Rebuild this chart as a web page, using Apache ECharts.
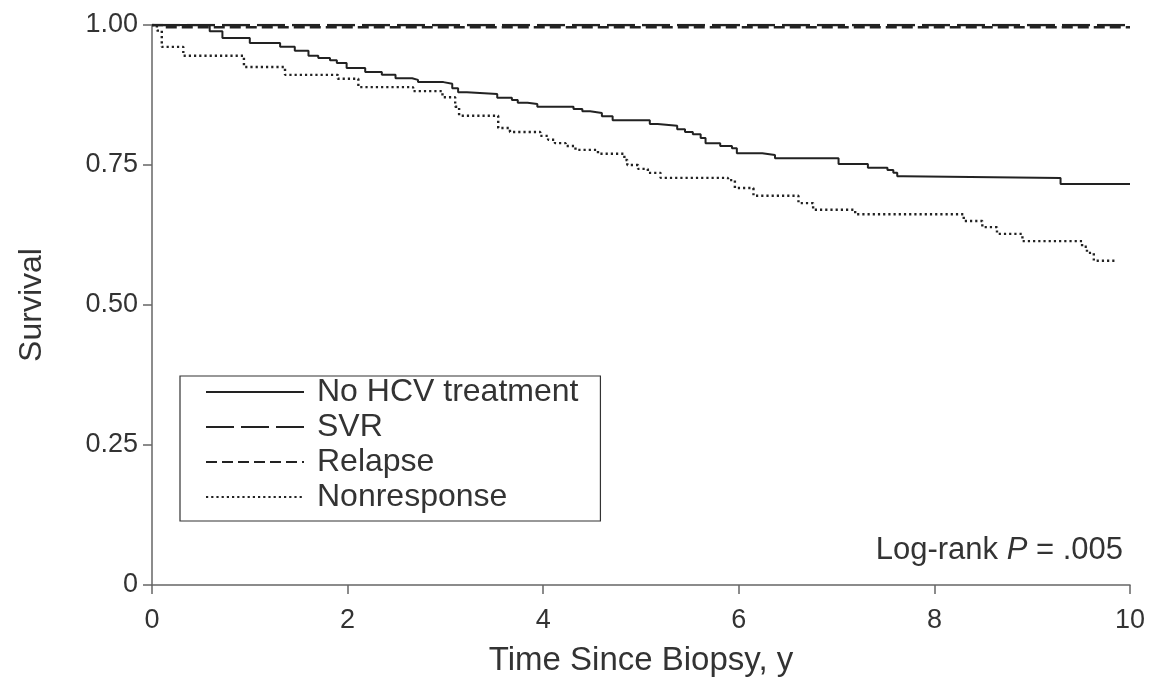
<!DOCTYPE html>
<html>
<head>
<meta charset="utf-8">
<script src="https://cdn.jsdelivr.net/npm/echarts@6/dist/echarts.min.js"></script>
<style>html,body{margin:0;padding:0;background:#fff}#c{width:1153px;height:685px}</style>
</head>
<body>
<div id="c"></div>
<script>
// Kaplan-Meier step points: [time (y), survival] — value after each step
const noTreatment = [
  [0,1.000],[0.59,0.989],[0.72,0.977],[1.00,0.968],[1.31,0.961],[1.46,0.954],[1.60,0.945],
  [1.70,0.941],[1.82,0.937],[1.89,0.932],[1.99,0.923],[2.18,0.916],[2.35,0.911],[2.49,0.905],
  [2.66,0.902],[2.72,0.898],[2.98,0.895],[3.07,0.887],[3.13,0.880],[3.22,0.877],[3.53,0.870],
  [3.68,0.866],[3.74,0.861],[3.84,0.859],[3.94,0.854],[4.31,0.850],[4.40,0.846],[4.48,0.843],
  [4.60,0.837],[4.71,0.830],[5.09,0.823],[5.17,0.820],[5.37,0.814],[5.45,0.809],[5.53,0.805],
  [5.61,0.798],[5.66,0.789],[5.81,0.784],[5.93,0.780],[5.98,0.771],[6.24,0.768],[6.37,0.762],
  [7.02,0.752],[7.32,0.745],[7.52,0.741],[7.58,0.736],[7.62,0.730],[7.68,0.727],[9.29,0.716],
  [10.0,0.716]
];
const svr = [[0,1.000],[10.0,1.000]];
const relapse = [[0,1.000],[0.12,0.996],[10.0,0.996]];
const nonresponse = [
  [0,1.000],[0.05,0.990],[0.10,0.961],[0.32,0.945],[0.94,0.925],[1.36,0.911],[1.90,0.904],
  [2.11,0.889],[2.67,0.882],[2.97,0.871],[3.10,0.854],[3.14,0.838],[3.54,0.816],[3.66,0.809],
  [3.97,0.802],[4.05,0.795],[4.12,0.789],[4.23,0.784],[4.33,0.777],[4.56,0.770],[4.83,0.759],
  [4.86,0.750],[4.97,0.743],[5.07,0.736],[5.20,0.727],[5.89,0.723],[5.96,0.709],[6.15,0.695],
  [6.61,0.682],[6.76,0.670],[7.19,0.662],[8.30,0.650],[8.49,0.639],[8.64,0.627],[8.90,0.614],
  [9.51,0.604],[9.56,0.593],[9.63,0.579],[9.85,0.579]
];
const seriesNames = ['No HCV treatment','SVR','Relapse','Nonresponse'];
const yTickLabels = {0:'0',0.25:'0.25',0.5:'0.50',0.75:'0.75',1:'1.00'};

const FONT = '"Liberation Sans", Arial, Helvetica, sans-serif';
const TXT = '#333';
const INK = '#222';
const chart = echarts.init(document.getElementById('c'), null, {renderer:'canvas'});
chart.setOption({
  animation: false,
  backgroundColor: '#fff',
  textStyle: {fontFamily: FONT},
  grid: {left: 152, right: 23, top: 25, bottom: 100, containLabel: false},
  xAxis: {
    type: 'value', min: 0, max: 10, interval: 2,
    name: 'Time Since Biopsy, y', nameLocation: 'middle', nameGap: 59,
    nameTextStyle: {fontSize: 33, color: TXT, fontFamily: FONT},
    axisLine: {show: true, lineStyle: {color: '#666', width: 1.5}},
    axisTick: {show: true, length: 9, lineStyle: {color: '#666', width: 1.5}},
    axisLabel: {fontSize: 27, color: TXT, margin: 22, fontFamily: FONT},
    splitLine: {show: false}
  },
  yAxis: {
    type: 'value', min: 0, max: 1, interval: 0.25,
    name: 'Survival', nameLocation: 'middle', nameGap: 104, nameRotate: 90,
    nameTextStyle: {fontSize: 32, color: TXT, fontFamily: FONT},
    axisLine: {show: true, lineStyle: {color: '#666', width: 1.5}},
    axisTick: {show: true, length: 9, lineStyle: {color: '#666', width: 1.5}},
    axisLabel: {fontSize: 27, color: TXT, margin: 14, fontFamily: FONT,
      formatter: v => yTickLabels[v] !== undefined ? yTickLabels[v] : ''},
    splitLine: {show: false}
  },
  legend: {
    orient: 'vertical', left: 180, top: 376,
    data: seriesNames,
    itemWidth: 98, itemHeight: 14, itemGap: 3,
    padding: [0, 22, 8, 25],
    borderColor: '#333', borderWidth: 1.2,
    selectedMode: false,
    itemStyle: {opacity: 0},
    textStyle: {fontSize: 32, color: TXT, fontFamily: FONT, lineHeight: 26, padding: [0,0,0,8]}
  },
  title: {
    text: 'Log-rank {i|P} = .005', right: 25, top: 530,
    textStyle: {fontSize: 31, fontWeight: 'normal', color: TXT, fontFamily: FONT,
      rich: {i: {fontSize: 31, fontStyle: 'italic', color: TXT, fontFamily: FONT}}}
  },
  series: [
    {name: seriesNames[0], type: 'line', step: 'end', data: noTreatment, showSymbol: false, symbol: 'none',
      itemStyle: {color: INK}, lineStyle: {color: INK, width: 2}, z: 4},
    {name: seriesNames[1], type: 'line', data: svr, showSymbol: false, symbol: 'none',
      itemStyle: {color: INK}, lineStyle: {color: INK, width: 2.4, type: [28, 7]}, z: 3},
    {name: seriesNames[2], type: 'line', step: 'end', data: relapse, showSymbol: false, symbol: 'none',
      itemStyle: {color: INK}, lineStyle: {color: INK, width: 2.4, type: [11, 5]}, z: 3},
    {name: seriesNames[3], type: 'line', step: 'end', data: nonresponse, showSymbol: false, symbol: 'none',
      itemStyle: {color: INK}, lineStyle: {color: INK, width: 2.4, type: [2.2, 3]}, z: 2}
  ]
});
</script>
</body>
</html>
